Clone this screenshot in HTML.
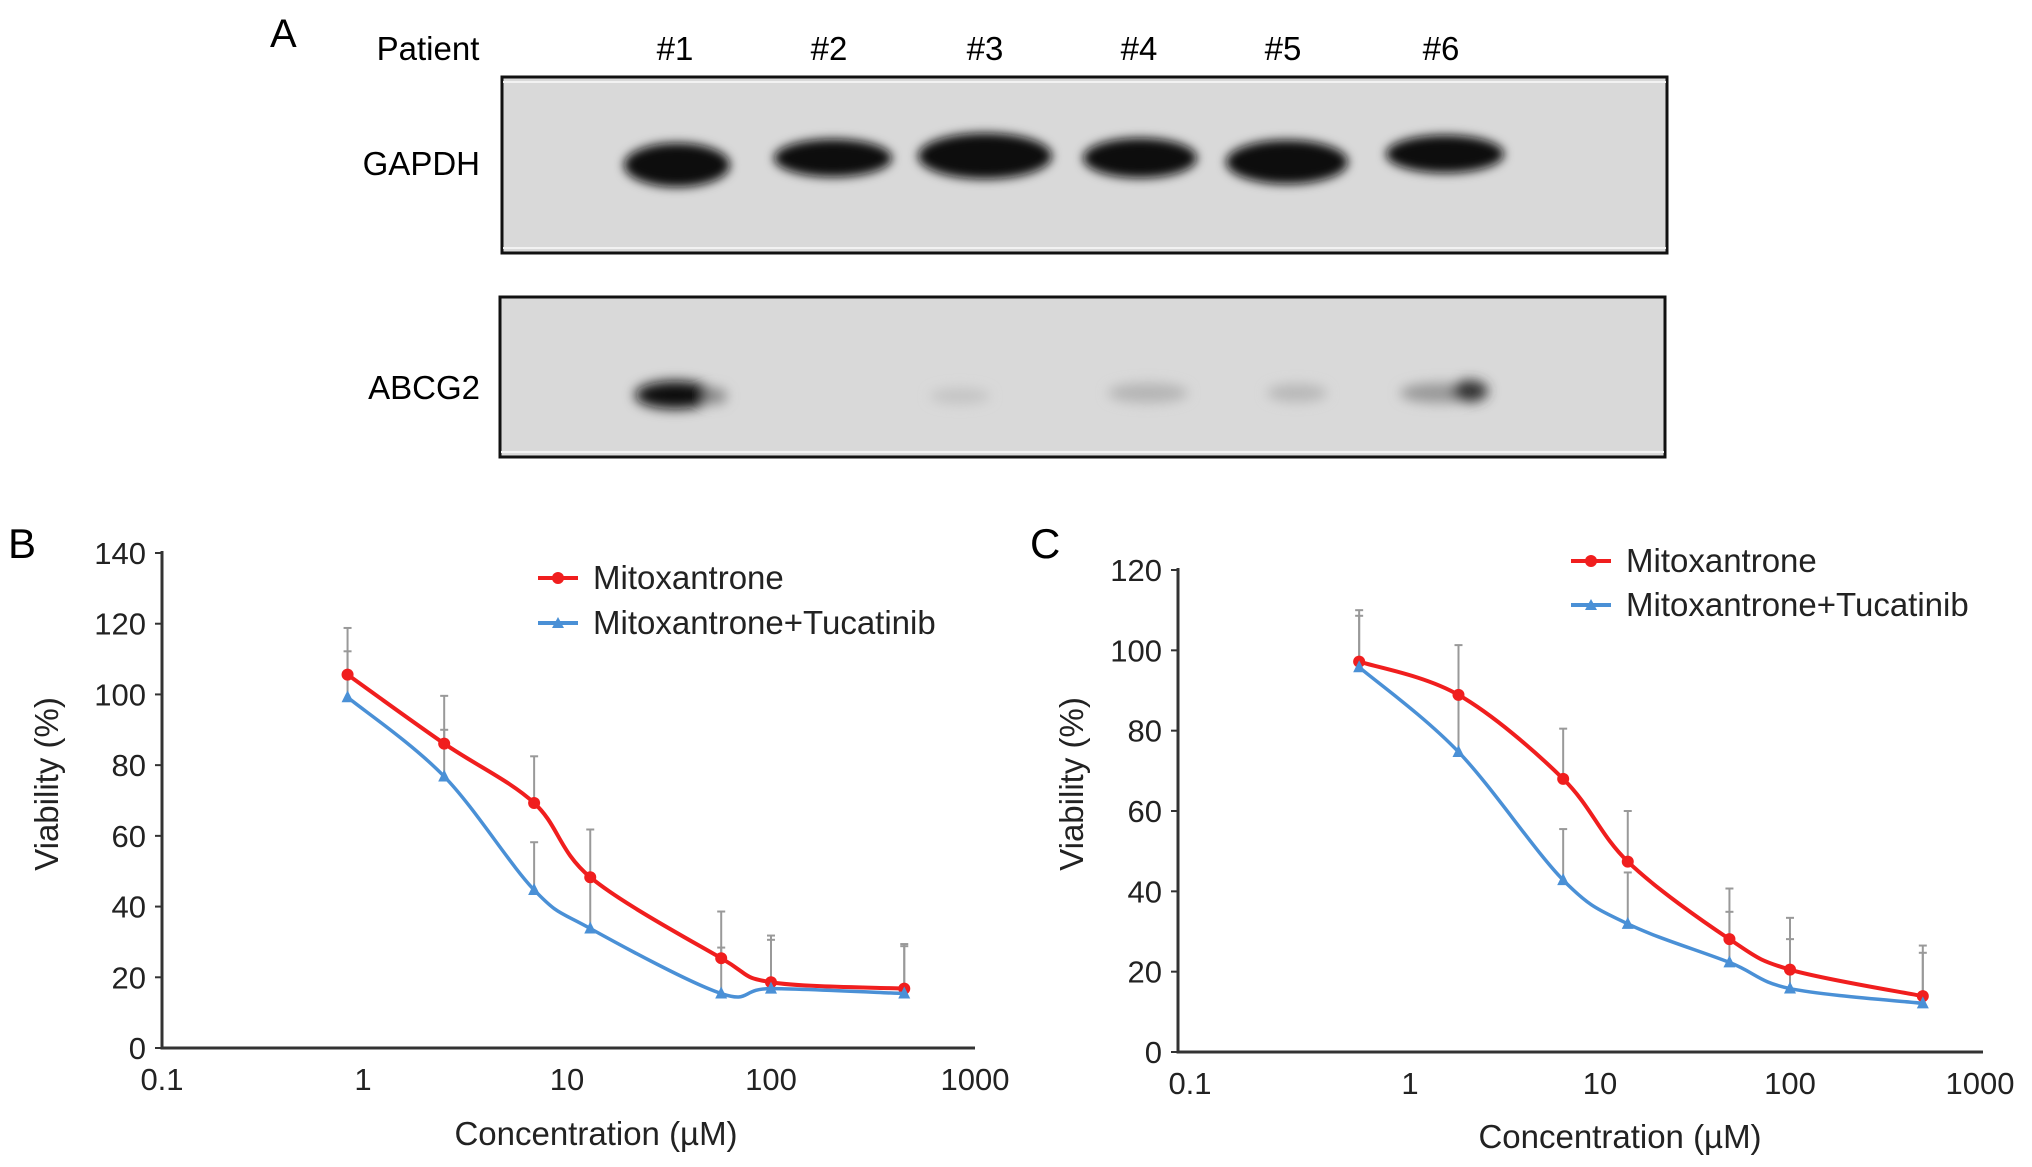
<!DOCTYPE html>
<html><head><meta charset="utf-8"><style>
html,body{margin:0;padding:0;background:#fff;}
svg{display:block;font-family:"Liberation Sans",Arial,sans-serif;}
</style></head><body>
<svg id="fig" width="2032" height="1167" viewBox="0 0 2032 1167" xmlns="http://www.w3.org/2000/svg">
<defs>
<filter id="blur" x="-50%" y="-50%" width="200%" height="200%"><feGaussianBlur stdDeviation="5"/></filter>
<filter id="blur2" x="-50%" y="-50%" width="200%" height="200%"><feGaussianBlur stdDeviation="6"/></filter>
</defs>
<g>
<text x="270" y="47" font-size="40">A</text>
<text x="428" y="60" font-size="33" text-anchor="middle">Patient</text>
<g font-size="33" text-anchor="middle">
<text x="675" y="60">#1</text><text x="829" y="60">#2</text><text x="985" y="60">#3</text><text x="1139" y="60">#4</text><text x="1283" y="60">#5</text><text x="1441" y="60">#6</text>
</g>
<rect x="502" y="77" width="1165" height="176" fill="#d9d9d9" stroke="#111" stroke-width="3"/>
<line x1="503" y1="82" x2="1666" y2="82" stroke="#f2f2f2" stroke-width="2"/>
<line x1="503" y1="248" x2="1666" y2="248" stroke="#f2f2f2" stroke-width="2"/>
<text x="480" y="175" font-size="33" text-anchor="end">GAPDH</text>
<g fill="#111" filter="url(#blur)">
<ellipse cx="677" cy="165" rx="53" ry="22"/>
<ellipse cx="833" cy="158" rx="59" ry="19"/>
<ellipse cx="985" cy="156" rx="67" ry="23"/>
<ellipse cx="1140" cy="158" rx="57" ry="20"/>
<ellipse cx="1287" cy="162" rx="61" ry="22"/>
<ellipse cx="1445" cy="154" rx="59" ry="19"/>
</g>
<rect x="500" y="297" width="1165" height="160" fill="#d9d9d9" stroke="#111" stroke-width="3"/>
<line x1="501" y1="452" x2="1664" y2="452" stroke="#f2f2f2" stroke-width="2"/>
<text x="480" y="399" font-size="33" text-anchor="end">ABCG2</text>
<g filter="url(#blur2)">
<ellipse cx="675" cy="395" rx="40" ry="14" fill="#111"/>
<ellipse cx="715" cy="396" rx="12" ry="8" fill="#888"/>
<ellipse cx="960" cy="396" rx="30" ry="8" fill="#c4c4c4"/>
<ellipse cx="1148" cy="393" rx="40" ry="10" fill="#b5b5b5"/>
<ellipse cx="1297" cy="393" rx="30" ry="9" fill="#b8b8b8"/>
<ellipse cx="1440" cy="393" rx="40" ry="10" fill="#999"/>
<ellipse cx="1470" cy="391" rx="18" ry="11" fill="#333"/>
</g>
</g>
<g id="panelB"></g>
<g id="panelC"></g>
</svg>
<script>
const NS="http://www.w3.org/2000/svg";
// Panel B data
const bConc=[0.84,2.5,6.9,13,57,100,450];
const bMito=[105.6,86.1,69.3,48.3,25.4,18.6,16.8];
const bMitoTuc=[99.2,76.8,44.7,33.8,15.4,16.8,15.4];
const bMitoErr=[13.2,13.5,13.2,13.5,13.2,13.2,12.6];
const bMitoTucErr=[13,13.2,13.5,14.8,13,13.8,13.4];
const bYTicks=[0,20,40,60,80,100,120,140];
// Panel C data
const cConc=[0.54,1.8,6.4,14,48,100,500];
const cMito=[97.2,88.9,68,47.4,28.1,20.5,13.9];
const cMitoTuc=[95.8,74.7,42.8,31.9,22.3,15.8,12.1];
const cMitoErr=[12.8,12.4,12.5,12.6,12.6,12.9,12.6];
const cMitoTucErr=[12.8,13.7,12.7,12.8,12.6,12.3,12.6];
const cYTicks=[0,20,40,60,80,100,120];
const xTicks=[0.1,1,10,100,1000];
const xTickLabels=["0.1","1","10","100","1000"];

function mk(tag,attrs,parent){const e=document.createElementNS(NS,tag);for(const k in attrs)e.setAttribute(k,attrs[k]);parent.appendChild(e);return e;}
function smooth(pts){let d="M"+pts[0][0]+","+pts[0][1];for(let i=0;i<pts.length-1;i++){const p0=pts[Math.max(0,i-1)],p1=pts[i],p2=pts[i+1],p3=pts[Math.min(pts.length-1,i+2)];const t=0.5/3;d+=" C"+(p1[0]+(p2[0]-p0[0])*t)+","+(p1[1]+(p2[1]-p0[1])*t)+" "+(p2[0]-(p3[0]-p1[0])*t)+","+(p2[1]-(p3[1]-p1[1])*t)+" "+p2[0]+","+p2[1];}return d;}

function panel(g,cfg){
  const sx=v=>cfg.x1+(Math.log10(v))*cfg.dec;
  const sy=v=>cfg.y0-(v/cfg.yMax)*(cfg.y0-cfg.yTop);
  const letter=mk('text',{x:cfg.lx,y:cfg.ly,'font-size':42},g);letter.textContent=cfg.letter;
  
  
  const ax=mk('line',{x1:cfg.axL,y1:cfg.y0,x2:cfg.axR,y2:cfg.y0,stroke:'#333','stroke-width':3},g);
  
  
  const ay=mk('line',{x1:cfg.axL,y1:cfg.y0+1.5,x2:cfg.axL,y2:sy(cfg.yTicks[cfg.yTicks.length-1])-2,stroke:'#333','stroke-width':3},g);
  
  
  cfg.yTicks.forEach(v=>{
    mk('line',{x1:cfg.axL-7,y1:sy(v),x2:cfg.axL,y2:sy(v),stroke:'#333','stroke-width':2},g);
    const t=mk('text',{x:cfg.axL-16,y:sy(v)+11,'font-size':31,'text-anchor':'end',fill:'#222'},g);t.textContent=v;
    
    
  });
  xTicks.forEach((v,i)=>{
    let x=sx(v); if(i===0) x=cfg.axL+cfg.x0off;
    const t=mk('text',{x:x,y:cfg.y0+42,'font-size':31,'text-anchor':'middle',fill:'#222'},g);t.textContent=xTickLabels[i];
    
    
  });
  const yt=mk('text',{x:0,y:0,'font-size':33,'text-anchor':'middle',fill:'#222',transform:`translate(${cfg.ytx},${cfg.yty}) rotate(-90)`},g);yt.textContent='Viability (%)';
  
  
  const xt=mk('text',{x:cfg.xtx,y:cfg.xty,'font-size':33,'text-anchor':'middle',fill:'#222'},g);xt.textContent='Concentration (\u00b5M)';
  
  
  const series=[[cfg.red,cfg.redErr,'#f01e1e','mitoxantrone'],[cfg.blue,cfg.blueErr,'#4a90d6','mitoxantrone-tucatinib']];
  series.forEach(([vals,errs,col,nm])=>{
    vals.forEach((v,i)=>{
      const x=sx(cfg.conc[i]);
      const e=mk('line',{x1:x,y1:sy(v),x2:x,y2:sy(v+errs[i]),stroke:'#999','stroke-width':2},g);
      
      
      mk('line',{x1:x-4,y1:sy(v+errs[i]),x2:x+4,y2:sy(v+errs[i]),stroke:'#999','stroke-width':2},g);
    });
  });
  series.forEach(([vals,errs,col,nm],si)=>{
    const pts=vals.map((v,i)=>[sx(cfg.conc[i]),sy(v)]);
    const p=mk('path',{d:smooth(pts),fill:'none',stroke:col,'stroke-width':si===0?4:3.5},g);
    
    
    pts.forEach(pt=>{
      let m;
      if(si===0){m=mk('circle',{cx:pt[0],cy:pt[1],r:6,fill:col},g);}
      else{m=mk('path',{d:`M${pt[0]},${pt[1]-7} L${pt[0]+6},${pt[1]+5} L${pt[0]-6},${pt[1]+5}Z`,fill:col},g);}
      
      
    });
  });
  // legend
  [['Mitoxantrone','#f01e1e',cfg.legY1,0],['Mitoxantrone+Tucatinib','#4a90d6',cfg.legY2,1]].forEach(([lab,col,y,si])=>{
    const lg=mk('g',{},g);
    
    
    mk('line',{x1:cfg.legX,y1:y,x2:cfg.legX+40,y2:y,stroke:col,'stroke-width':4},lg);
    if(si===0)mk('circle',{cx:cfg.legX+20,cy:y,r:6,fill:col},lg);
    else mk('path',{d:`M${cfg.legX+20},${y-6} L${cfg.legX+26},${y+5} L${cfg.legX+14},${y+5}Z`,fill:col},lg);
    const t=mk('text',{x:cfg.legX+55,y:y+11,'font-size':33,fill:'#222'},lg);t.textContent=lab;
  });
}
panel(document.getElementById('panelB'),{letter:'B',lx:8,ly:558,x1:363,dec:204,y0:1048,yTop:553,yMax:140,axL:162,axR:975,x0off:0,
  yTicks:bYTicks,conc:bConc,red:bMito,redErr:bMitoErr,blue:bMitoTuc,blueErr:bMitoTucErr,
  ytx:58,yty:784,xtx:596,xty:1145,legX:538,legY1:578,legY2:623});
panel(document.getElementById('panelC'),{letter:'C',lx:1030,ly:558,x1:1410,dec:190,y0:1052,yTop:570,yMax:120,axL:1178,axR:1983,x0off:12,
  yTicks:cYTicks,conc:cConc,red:cMito,redErr:cMitoErr,blue:cMitoTuc,blueErr:cMitoTucErr,
  ytx:1083,yty:784,xtx:1620,xty:1148,legX:1571,legY1:561,legY2:605});
</script>
</body></html>
